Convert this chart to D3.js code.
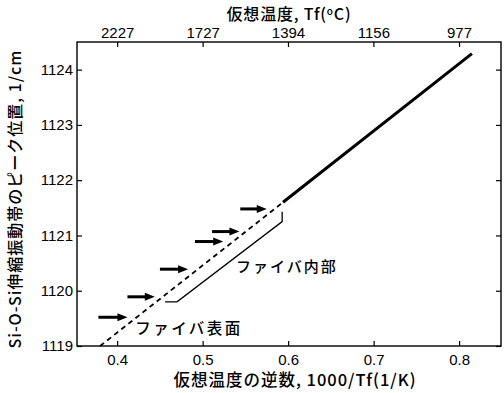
<!DOCTYPE html>
<html><head><meta charset="utf-8">
<script src="https://cdn.jsdelivr.net/npm/d3@7"></script>
<style>
body{margin:0;background:#fff;}
text{font-family:"Liberation Sans","Noto Sans CJK JP",Arial,sans-serif;fill:#000;}
.jp{font-family:"Noto Sans CJK JP","Liberation Sans",sans-serif;font-weight:500;}
</style></head>
<body>
<svg id="c" width="504" height="393"></svg>
<script>
// data
const xTicks = [0.4, 0.5, 0.6, 0.7, 0.8];
const yTicks = [1119, 1120, 1121, 1122, 1123, 1124];
const topTicksC = [2227, 1727, 1394, 1156, 977];
const solidX = [0.594, 0.815];
const solidY = [1121.6, 1124.29];
const dashX = [0.38, 0.594];
const dashY = [1119.0, 1121.6];
const innerX = [0.456, 0.470, 0.593, 0.593];
const innerY = [1119.8, 1119.8, 1121.25, 1121.43];
const arrowX0 = [0.378, 0.412, 0.450, 0.491, 0.511, 0.544];
const arrowX1 = [0.412, 0.444, 0.483, 0.524, 0.543, 0.575];
const arrowY  = [1119.52, 1119.89, 1120.39, 1120.89, 1121.07, 1121.48];
const labelInner = "ファイバ内部";
const labelSurface = "ファイバ表面";

const svg = d3.select("#c");
const L = 77, R = 501, T = 42, B = 346;
const x = d3.scaleLinear().domain([0.353, 0.849]).range([L, R]);
const y = d3.scaleLinear().domain([1119, 1124.5]).range([B, T]);

// frame
svg.append("rect").attr("x", L).attr("y", T).attr("width", R - L).attr("height", B - T)
  .attr("fill", "none").attr("stroke", "#000").attr("stroke-width", 1.4);

const tickLen = 5;
const gb = svg.append("g").attr("transform", `translate(0,${B})`)
  .call(d3.axisBottom(x).tickValues(xTicks).tickSizeInner(-tickLen).tickSizeOuter(0).tickPadding(8).tickFormat(d3.format(".1f")));
const gt = svg.append("g").attr("transform", `translate(0,${T})`)
  .call(d3.axisTop(x).tickValues(topTicksC.map(c => 1000 / (c + 273.15))).tickSizeInner(-tickLen).tickSizeOuter(0).tickPadding(4)
  .tickFormat((d, i) => topTicksC[i]));
const gl = svg.append("g").attr("transform", `translate(${L},0)`)
  .call(d3.axisLeft(y).tickValues(yTicks).tickSizeInner(-tickLen).tickSizeOuter(0).tickPadding(4).tickFormat(d3.format("d")));
const gr = svg.append("g").attr("transform", `translate(${R},0)`)
  .call(d3.axisRight(y).tickValues(yTicks).tickSizeInner(-tickLen).tickSizeOuter(0).tickFormat(""));
[gb, gt, gl, gr].forEach(g => {
  g.select(".domain").remove();
  g.selectAll("line").attr("stroke", "#000").attr("stroke-width", 1.2);
  g.selectAll("text").attr("font-size", 15).attr("font-family", "Liberation Sans, Arial, sans-serif").attr("fill", "#000");
});

// lines
const line = d3.line().x(d => x(d[0])).y(d => y(d[1]));
svg.append("path").datum(solidX.map((v, i) => [v, solidY[i]])).attr("d", line)
  .attr("fill", "none").attr("stroke", "#000").attr("stroke-width", 3);
svg.append("path").datum(dashX.map((v, i) => [v, dashY[i]])).attr("d", line)
  .attr("fill", "none").attr("stroke", "#000").attr("stroke-width", 1.8).attr("stroke-dasharray", "5,4");
svg.append("path").datum(innerX.map((v, i) => [v, innerY[i]])).attr("d", line)
  .attr("fill", "none").attr("stroke", "#000").attr("stroke-width", 1.3);

// arrows
const ag = svg.append("g");
arrowY.forEach((yy, i) => {
  const x0 = x(arrowX0[i]), x1 = x(arrowX1[i]), py = y(yy);
  ag.append("line").attr("x1", x0).attr("x2", x1 - 7).attr("y1", py).attr("y2", py)
    .attr("stroke", "#000").attr("stroke-width", 3);
  ag.append("path").attr("d", `M${x1},${py} L${x1 - 10},${py - 4} L${x1 - 10},${py + 4} Z`).attr("fill", "#000");
});

// labels in plot
svg.append("text").attr("class", "jp").attr("x", x(0.539)).attr("y", y(1120.41)).attr("font-size", 15)
  .attr("letter-spacing", 2).attr("dominant-baseline", "middle").text(labelInner);
svg.append("text").attr("class", "jp").attr("x", x(0.421)).attr("y", y(1119.29)).attr("font-size", 15.5)
  .attr("letter-spacing", 2.5).attr("dominant-baseline", "middle").text(labelSurface);

// axis titles
svg.append("text").attr("class", "jp").attr("x", 295).attr("y", 382).attr("text-anchor", "middle")
  .attr("dominant-baseline", "middle").attr("font-size", 16.5).attr("letter-spacing", 1).text("仮想温度の逆数, 1000/Tf(1/K)");
const tt = svg.append("text").attr("class", "jp").attr("x", 289).attr("y", 20).attr("text-anchor", "middle")
  .attr("font-size", 16).attr("letter-spacing", 0.8);
tt.append("tspan").text("仮想温度, Tf(");
tt.append("tspan").attr("font-size", 10).attr("dy", -5).text("o");
tt.append("tspan").attr("dy", 5).text("C)");
svg.append("text").attr("class", "jp").attr("transform", `translate(17,199) rotate(-90)`).attr("text-anchor", "middle")
  .attr("dominant-baseline", "middle").attr("font-size", 16).attr("letter-spacing", 1).text("Si-O-Si伸縮振動帯のピーク位置, 1/cm");
</script>
</body></html>
